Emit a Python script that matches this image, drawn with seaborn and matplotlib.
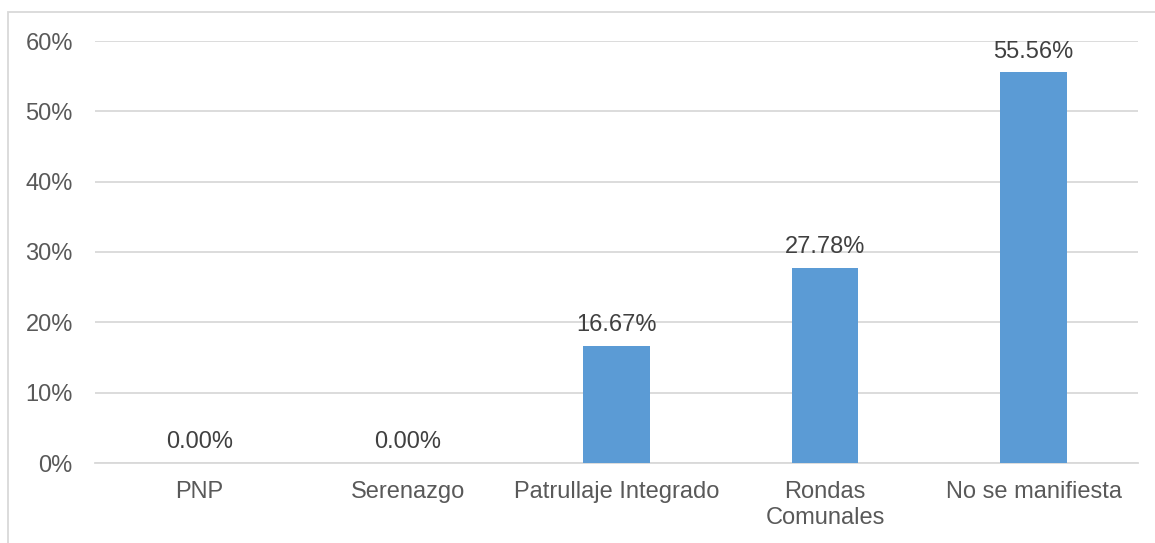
import matplotlib
matplotlib.use("Agg")
import matplotlib.pyplot as plt
import seaborn as sns
import pandas as pd
from matplotlib.patches import Rectangle

categories = ["PNP", "Serenazgo", "Patrullaje Integrado", "Rondas\nComunales", "No se manifiesta"]
values = [0.00, 0.00, 16.67, 27.78, 55.56]
value_labels = ["0.00%", "0.00%", "16.67%", "27.78%", "55.56%"]
y_ticks = [0, 10, 20, 30, 40, 50, 60]
y_tick_labels = ["0%", "10%", "20%", "30%", "40%", "50%", "60%"]

sns.set_theme(style="white")
plt.rcParams["font.family"] = ["Liberation Sans", "DejaVu Sans"]

df = pd.DataFrame({"categoria": categories, "valor": values})

fig = plt.figure(figsize=(11.55, 5.43), dpi=100)
ax = fig.add_axes([95 / 1155, 1 - 463 / 543, (1138 - 95) / 1155, (463 - 41) / 543])

sns.barplot(data=df, x="categoria", y="valor", color="#5B9BD5", width=0.32,
            saturation=1, linewidth=0, ax=ax, zorder=3)

ax.set_ylim(0, 60)
ax.set_xlim(-0.5, len(categories) - 0.5)
ax.set_yticks(y_ticks)
ax.set_yticklabels(y_tick_labels)
ax.yaxis.grid(True, color="#D9D9D9", linewidth=1.3, zorder=0)
ax.set_axisbelow(True)
for side in ["top", "right", "left"]:
    ax.spines[side].set_visible(False)
ax.spines["bottom"].set_color("#D9D9D9")
ax.spines["bottom"].set_linewidth(1.3)
ax.set_xlabel("")
ax.set_ylabel("")
ax.tick_params(axis="y", length=0, pad=16, labelsize=17, labelcolor="#595959")
ax.tick_params(axis="x", length=0, pad=13, labelsize=17, labelcolor="#595959")
for lbl in ax.get_xticklabels():
    lbl.set_linespacing(1.25)

for i, (v, t) in enumerate(zip(values, value_labels)):
    ax.annotate(t, (i, v), xytext=(0, 7), textcoords="offset points",
                ha="center", va="bottom", fontsize=17, color="#404040")

# light chart-area frame
fig.patches.append(Rectangle((8 / 1155, -0.1), 1.2, 1.1 - 12 / 543,
                             transform=fig.transFigure, fill=False,
                             edgecolor="#D9D9D9", linewidth=1.3))

fig.savefig("out.png", dpi=100)
